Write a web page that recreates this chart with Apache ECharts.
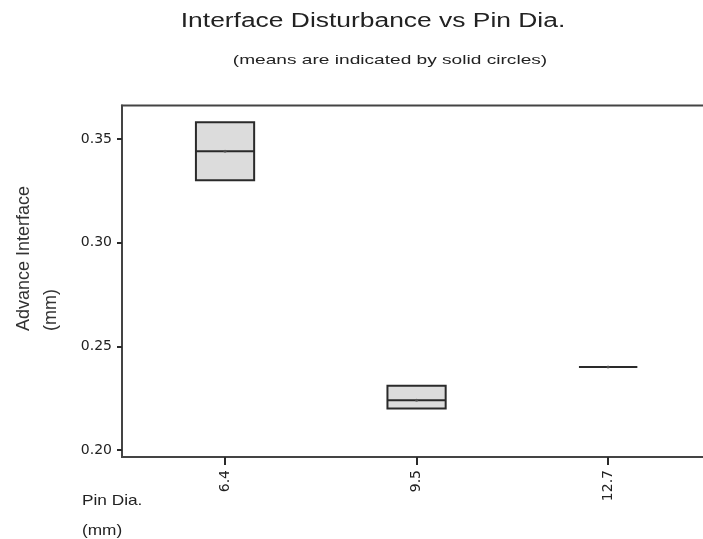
<!DOCTYPE html>
<html>
<head>
<meta charset="utf-8">
<script src="https://cdn.jsdelivr.net/npm/echarts@6/dist/echarts.min.js"></script>
<style>
  html, body { margin: 0; padding: 0; background: #fff; }
  #chart { width: 703px; height: 539px; }
</style>
</head>
<body>
<div id="chart"></div>
<script>
// values
const pinDia = ['6.4', '9.5', '12.7'];
const q1 = [0.33, 0.22, 0.24];
const median = [0.344, 0.224, 0.24];
const q3 = [0.358, 0.231, 0.24];
const means = [0.344, 0.224, 0.24];
const yTicks = [0.20, 0.25, 0.30, 0.35];

const font = 'Liberation Sans, Arial, sans-serif';
const tickFont = 'DejaVu Sans, sans-serif';
const ink = '#2a2a2a';

const boxData = pinDia.map((c, i) => [i, q1[i], q3[i], median[i]]);
const meanData = pinDia.map((c, i) => [i, means[i]]);
const halfW = 0.152;

const chart = echarts.init(document.getElementById('chart'));

const renderBox = (params, api) => {
  const x = api.value(0);
  const lo = api.coord([x - halfW, api.value(1)]);
  const hi = api.coord([x + halfW, api.value(2)]);
  const md = api.coord([x, api.value(3)]);
  return {
    type: 'group',
    children: [
      {
        type: 'rect',
        shape: { x: lo[0], y: hi[1], width: hi[0] - lo[0], height: lo[1] - hi[1] },
        style: { fill: '#dcdcdc', stroke: ink, lineWidth: 2 }
      },
      {
        type: 'line',
        shape: { x1: lo[0], y1: md[1], x2: hi[0], y2: md[1] },
        style: { stroke: ink, lineWidth: 2 }
      }
    ]
  };
};

// stretched text pieces (the original uses a widely spaced font)
const label = (text, x, y, size, sx, extra) => Object.assign({
  type: 'text', x: x, y: y, scaleX: sx,
  style: {
    text: text, x: 0, y: 0, fontFamily: font, fontSize: size, fill: '#222',
    textAlign: 'center', textVerticalAlign: 'middle'
  }
}, extra || {});

let option = {
  animation: false,
  backgroundColor: '#fff',
  graphic: [
    label('Interface Disturbance vs Pin Dia.', 373, 21, 20, 1.32),
    label('(means are indicated by solid circles)', 390, 60, 13, 1.47),
    {
      type: 'text', x: 82, y: 486, scaleX: 1.15,
      style: { text: 'Pin Dia.\n(mm)', x: 0, y: 0, fontFamily: font, fontSize: 15, lineHeight: 30, fill: '#222' }
    },
    {
      type: 'text', x: 37.5, y: 331, rotation: Math.PI / 2,
      style: {
        text: 'Advance Interface\n(mm)', x: 0, y: 0, fontFamily: font, fontSize: 18,
        lineHeight: 27, fill: '#333', textAlign: 'left', textVerticalAlign: 'middle'
      }
    }
  ],
  grid: {
    left: 122, top: 105.5, right: -20, bottom: 82,
    outerBoundsMode: 'none',
    containLabel: false,
    show: true, borderColor: '#444', borderWidth: 2, backgroundColor: '#fff'
  },
  xAxis: {
    type: 'value',
    min: -0.538, max: 2.6,
    splitLine: { show: false },
    axisLine: { show: true, onZero: false, lineStyle: { color: '#444', width: 2 } },
    axisTick: { show: true, length: 8, customValues: [0, 1, 2], lineStyle: { color: ink, width: 2 } },
    axisLabel: {
      customValues: [0, 1, 2],
      formatter: (v) => pinDia[Math.round(v)],
      rotate: 90, margin: 13,
      fontFamily: tickFont, fontSize: 14, color: '#222'
    }
  },
  yAxis: {
    type: 'value',
    min: 0.1966, max: 0.3661,
    splitLine: { show: false },
    axisLine: { show: true, onZero: false, lineStyle: { color: '#444', width: 2 } },
    axisTick: { show: true, length: 5, customValues: yTicks, lineStyle: { color: ink, width: 2 } },
    axisLabel: {
      customValues: yTicks,
      formatter: (v) => v.toFixed(2),
      margin: 10,
      fontFamily: tickFont, fontSize: 14, color: '#222'
    }
  },
  series: [
    {
      type: 'custom',
      renderItem: renderBox,
      encode: { x: 0, y: [1, 2, 3] },
      data: boxData
    },
    {
      type: 'scatter',
      symbol: 'circle',
      symbolSize: 3,
      itemStyle: { color: '#555' },
      data: meanData,
      z: 5
    }
  ]
};

option && chart.setOption(option);
</script>
</body>
</html>
